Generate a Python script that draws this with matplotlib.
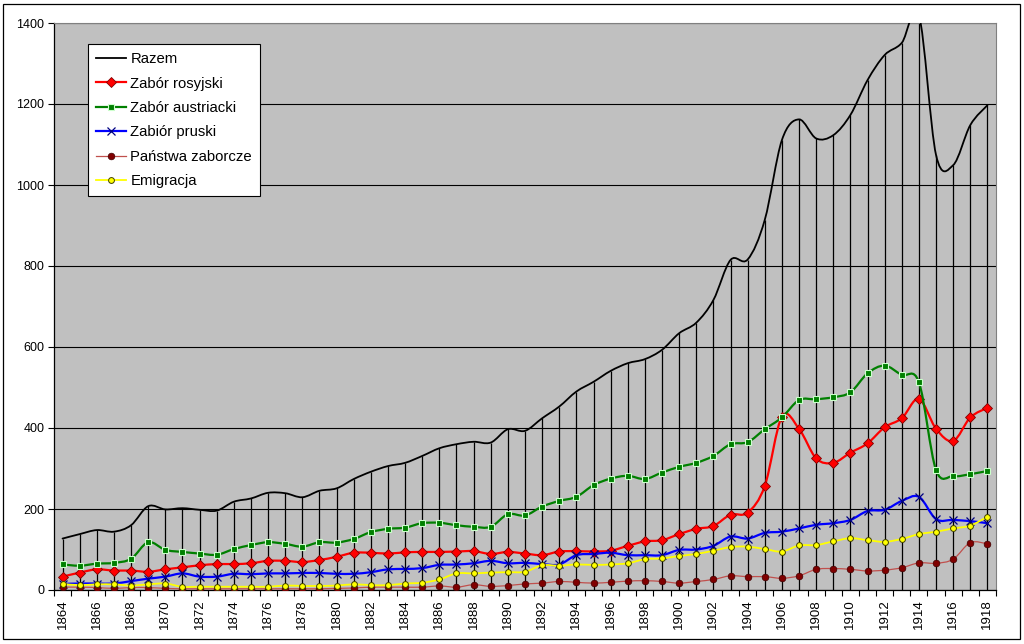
import numpy as np
import matplotlib.pyplot as plt
from matplotlib.path import Path
from matplotlib.patches import PathPatch, Rectangle
from matplotlib.lines import Line2D

plt.rcParams['font.family'] = ['Liberation Sans', 'DejaVu Sans']

years = list(range(1864, 1919))

razem = [127, 138, 148, 144, 160, 207, 199, 202, 198, 196,
         218, 226, 240, 239, 229, 245, 251, 274, 292, 306,
         314, 331, 350, 360, 366, 364, 397, 393, 424, 453,
         490, 514, 541, 560, 570, 593, 634, 660, 716, 815,
         816, 914, 1111, 1162, 1115, 1123, 1173, 1259, 1321, 1351,
         1420, 1074, 1049, 1148, 1197]
rosyjski = [33, 43, 51, 48, 48, 45, 51, 56, 61, 64,
            64, 66, 72, 72, 69, 74, 82, 92, 92, 90,
            93, 94, 94, 95, 96, 89, 94, 90, 86, 95,
            96, 95, 97, 109, 120, 123, 138, 151, 158, 186,
            191, 257, 428, 398, 325, 314, 339, 362, 402, 424,
            472, 398, 368, 426, 450]
austriacki = [63, 60, 65, 67, 77, 118, 99, 94, 90, 87,
              101, 111, 118, 114, 107, 118, 117, 126, 143, 151,
              154, 165, 166, 160, 156, 156, 187, 184, 206, 220,
              230, 259, 275, 282, 274, 290, 304, 314, 331, 360,
              365, 397, 426, 469, 471, 476, 488, 535, 554, 531,
              513, 296, 281, 286, 294]
pruski = [15, 16, 16, 16, 22, 28, 33, 41, 33, 33,
          40, 39, 41, 41, 42, 42, 40, 40, 44, 51,
          52, 54, 62, 63, 66, 72, 66, 67, 64, 63,
          86, 89, 92, 86, 86, 86, 99, 100, 109, 132,
          127, 141, 144, 152, 161, 165, 173, 195, 198, 220,
          230, 175, 173, 170, 165]
zaborcze = [7, 7, 6, 4, 6, 6, 4, 3, 3, 3,
            3, 3, 3, 3, 3, 3, 4, 5, 7, 7,
            7, 7, 10, 7, 13, 9, 11, 15, 17, 21,
            19, 17, 19, 22, 23, 21, 17, 21, 26, 35,
            33, 33, 29, 35, 51, 53, 51, 47, 49, 55,
            67, 66, 76, 117, 114]
emigracja = [15, 12, 14, 14, 11, 14, 16, 8, 8, 8,
             8, 8, 8, 11, 10, 10, 11, 14, 12, 12,
             16, 18, 26, 41, 41, 43, 44, 45, 61, 60,
             63, 62, 63, 66, 76, 78, 84, 89, 97, 106,
             107, 101, 95, 110, 111, 120, 128, 123, 119, 126,
             138, 144, 152, 159, 181]


def smooth_path(xs, ys):
    # Excel-like smoothed line: cubic bezier segments through the data points
    xs = np.asarray(xs, float)
    ys = np.asarray(ys, float)
    verts = [(xs[0], ys[0])]
    codes = [Path.MOVETO]
    n = len(xs)
    for i in range(n - 1):
        i0 = max(i - 1, 0)
        i3 = min(i + 2, n - 1)
        c1 = (xs[i] + (xs[i + 1] - xs[i0]) / 6, ys[i] + (ys[i + 1] - ys[i0]) / 6)
        c2 = (xs[i + 1] - (xs[i3] - xs[i]) / 6, ys[i + 1] - (ys[i3] - ys[i]) / 6)
        verts += [c1, c2, (xs[i + 1], ys[i + 1])]
        codes += [Path.CURVE4] * 3
    return Path(verts, codes)


fig = plt.figure(figsize=(10.24, 6.44), dpi=100)
fig.patch.set_facecolor('white')
ax = fig.add_axes([54 / 1024, 54 / 644, 942 / 1024, 567 / 644])
ax.set_facecolor('#C0C0C0')

x = np.arange(len(years))

# drop lines from the top series down to the axis
ax.vlines(x, 0, razem, colors='black', linewidth=0.9, zorder=2)

series = [
    ('Razem', razem, dict(color='black', lw=1.3), None),
    ('Zabór rosyjski', rosyjski, dict(color='#FF0000', lw=1.6),
     dict(marker='D', ms=5.5, mfc='#FF0000', mec='#800000', mew=0.6)),
    ('Zabór austriacki', austriacki, dict(color='#008000', lw=1.6),
     dict(marker='s', ms=5, mfc='#008000', mec='#CCFFCC', mew=0.8)),
    ('Zabiór pruski', pruski, dict(color='#0000FF', lw=1.6),
     dict(marker='x', ms=6, mfc='none', mec='#000080', mew=0.9)),
    ('Państwa zaborcze', zaborcze, dict(color='#C0504D', lw=0.9),
     dict(marker='o', ms=4.8, mfc='#800000', mec='#400000', mew=0.5)),
    ('Emigracja', emigracja, dict(color='#FFFF00', lw=1.3),
     dict(marker='o', ms=4.2, mfc='#FFFF00', mec='#404000', mew=0.7)),
]

handles = []
for k, (name, vals, lstyle, mstyle) in enumerate(series):
    z = 3 + k
    patch = PathPatch(smooth_path(x, vals), fill=False, edgecolor=lstyle['color'],
                      linewidth=lstyle['lw'], zorder=z, capstyle='round', joinstyle='round')
    ax.add_patch(patch)
    if mstyle is not None:
        ax.plot(x, vals, linestyle='none', zorder=z + 0.5, **mstyle)
        handles.append(Line2D([], [], color=lstyle['color'], lw=lstyle['lw'], label=name, **mstyle))
    else:
        handles.append(Line2D([], [], color=lstyle['color'], lw=lstyle['lw'], label=name))

ax.set_xlim(-0.5, len(years) - 0.5)
ax.set_ylim(0, 1400)

ax.set_yticks(range(0, 1401, 200))
ax.yaxis.grid(True, color='black', linewidth=0.8)
ax.set_axisbelow(True)
ax.tick_params(axis='y', length=4, width=0.8, labelsize=9, pad=3)

ax.set_xticks(x[::2])
ax.set_xticklabels([str(y) for y in years[::2]], rotation=90, fontsize=9.5)
ax.set_xticks(np.arange(-0.5, len(years), 1), minor=True)
ax.tick_params(axis='x', which='major', length=0, pad=7)
ax.tick_params(axis='x', which='minor', length=4, width=0.8)

for side in ['top', 'right']:
    ax.spines[side].set_color('#808080')
    ax.spines[side].set_linewidth(0.8)
for side in ['left', 'bottom']:
    ax.spines[side].set_color('black')
    ax.spines[side].set_linewidth(0.9)

leg = ax.legend(handles=handles, loc='upper left', bbox_to_anchor=(34 / 942, 546 / 567),
                borderaxespad=0, fontsize=10.7, frameon=True, fancybox=False,
                labelspacing=0.7, handlelength=2.0, handletextpad=0.3, borderpad=0.55)
leg.get_frame().set_edgecolor('black')
leg.get_frame().set_linewidth(0.8)
leg.get_frame().set_facecolor('white')
leg.get_frame().set_alpha(1)
leg.set_zorder(20)

# outer chart border
fig.patches.append(Rectangle((3 / 1024, 5 / 644), 1017 / 1024, 635 / 644, transform=fig.transFigure,
                             fill=False, edgecolor='black', linewidth=0.9))

fig.savefig('out.png', dpi=100)
